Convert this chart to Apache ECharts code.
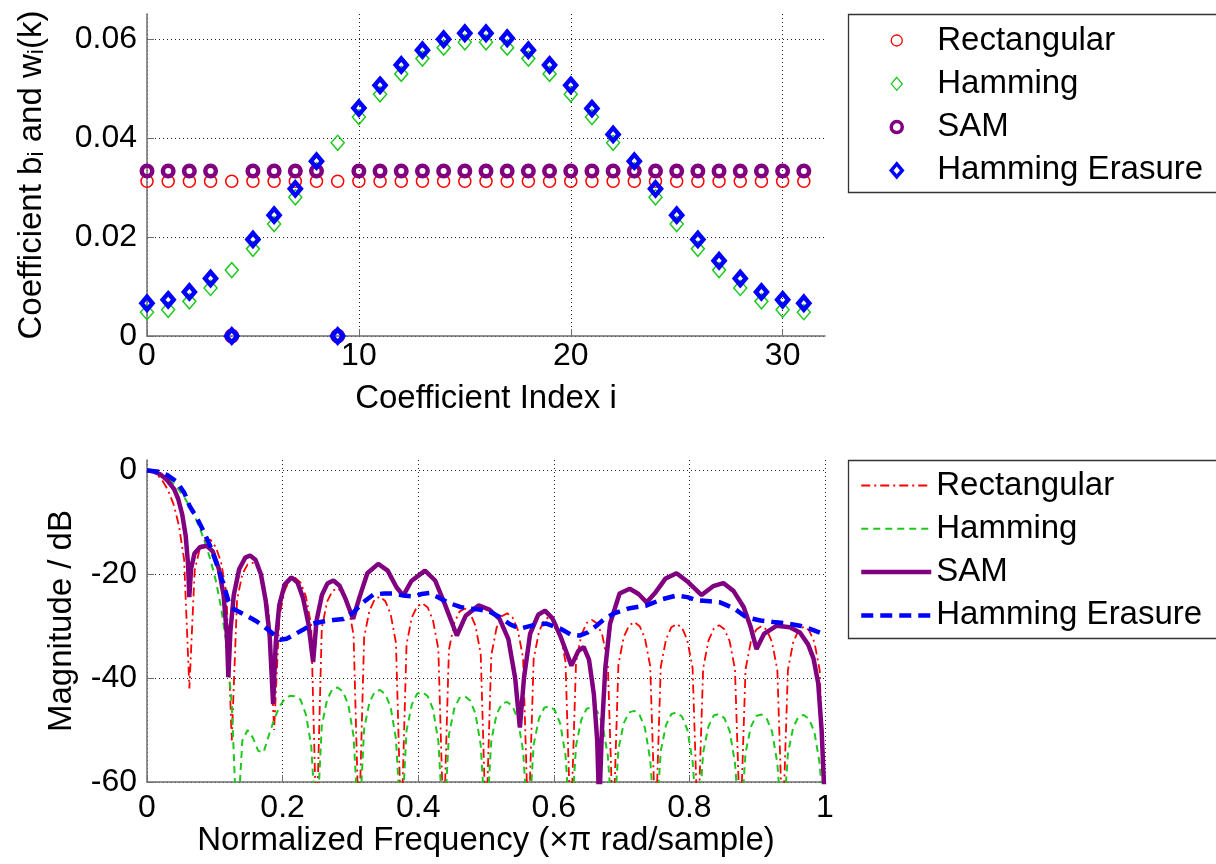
<!DOCTYPE html>
<html>
<head>
<meta charset="utf-8">
<script src="https://cdn.jsdelivr.net/npm/echarts@6.0.0/dist/echarts.min.js"></script>
<style>
html,body{margin:0;padding:0;background:#fff}
#chart{width:1216px;height:864px}
</style>
</head>
<body>
<div id="chart"></div>
<script>
// coefficient plot (top)
var coefIndex = [0,1,2,3,4,5,6,7,8,9,10,11,12,13,14,15,16,17,18,19,20,21,22,23,24,25,26,27,28,29,30,31];
var rectCoef = [0.03125,0.03125,0.03125,0.03125,0.03125,0.03125,0.03125,0.03125,0.03125,0.03125,0.03125,0.03125,0.03125,0.03125,0.03125,0.03125,
  0.03125,0.03125,0.03125,0.03125,0.03125,0.03125,0.03125,0.03125,0.03125,0.03125,0.03125,0.03125,0.03125,0.03125,0.03125,0.03125];
var hammCoef = [0.0048,0.0053,0.0070,0.0097,0.0133,0.0176,0.0226,0.0280,0.0335,0.0390,0.0442,0.0488,0.0529,0.0560,0.0582,0.0593,
  0.0593,0.0582,0.0560,0.0529,0.0488,0.0442,0.0390,0.0335,0.0280,0.0226,0.0176,0.0133,0.0097,0.0070,0.0053,0.0048];
var samCoef = [0.0333,0.0333,0.0333,0.0333,0,0.0333,0.0333,0.0333,0.0333,0,0.0333,0.0333,0.0333,0.0333,0.0333,0.0333,
  0.0333,0.0333,0.0333,0.0333,0.0333,0.0333,0.0333,0.0333,0.0333,0.0333,0.0333,0.0333,0.0333,0.0333,0.0333,0.0333];
var erasCoef = [0.0066,0.0073,0.0089,0.0116,0,0.0195,0.0244,0.0297,0.0353,0,0.0460,0.0506,0.0547,0.0577,0.0599,0.0611,
  0.0611,0.0601,0.0577,0.0547,0.0506,0.0459,0.0407,0.0353,0.0297,0.0244,0.0195,0.0152,0.0116,0.0089,0.0073,0.0066];

// frequency response (bottom)
var freqGrid = [0,0.0078,0.0156,0.0234,0.0313,0.0391,0.0469,0.0547,
  0.0625,0.0703,0.0781,0.0859,0.0938,0.1016,0.1094,0.1172,
  0.125,0.1328,0.1406,0.1484,0.1563,0.1641,0.1719,0.1797,
  0.1875,0.1953,0.2031,0.2109,0.2188,0.2266,0.2344,0.2422,
  0.25,0.2578,0.2656,0.2734,0.2813,0.2891,0.2969,0.3047,
  0.3125,0.3203,0.3281,0.3359,0.3438,0.3516,0.3594,0.3672,
  0.375,0.3828,0.3906,0.3984,0.4063,0.4141,0.4219,0.4297,
  0.4375,0.4453,0.4531,0.4609,0.4688,0.4766,0.4844,0.4922,
  0.5,0.5078,0.5156,0.5234,0.5313,0.5391,0.5469,0.5547,
  0.5625,0.5703,0.5781,0.5859,0.5938,0.6016,0.6094,0.6172,
  0.625,0.6328,0.6406,0.6484,0.6563,0.6641,0.6719,0.6797,
  0.6875,0.6953,0.7031,0.7109,0.7188,0.7266,0.7344,0.7422,
  0.75,0.7578,0.7656,0.7734,0.7813,0.7891,0.7969,0.8047,
  0.8125,0.8203,0.8281,0.8359,0.8438,0.8516,0.8594,0.8672,
  0.875,0.8828,0.8906,0.8984,0.9063,0.9141,0.9219,0.9297,
  0.9375,0.9453,0.9531,0.9609,0.9688,0.9766,0.9844,0.9922,1];
var rectDb = [0,-0.2,-0.9,-2.1,-3.9,-6.5,-10.5,-17.1,
  -42,-19.3,-14.9,-13.4,-13.4,-14.8,-17.8,-23.7,
  -52,-24.9,-20.0,-18.1,-17.8,-18.9,-21.7,-27.4,
  -50,-28.1,-23.1,-21.0,-20.7,-21.6,-24.3,-29.9,
  -70,-30.4,-25.3,-23.2,-22.7,-23.6,-26.2,-31.7,
  -70,-32.1,-27.0,-24.8,-24.3,-25.2,-27.7,-33.2,
  -70,-33.5,-28.3,-26.2,-25.6,-26.4,-28.9,-34.4,
  -70,-34.6,-29.4,-27.2,-26.6,-27.5,-29.9,-35.3,
  -70,-35.6,-30.3,-28.1,-27.5,-28.3,-30.7,-36.1,
  -70,-36.3,-31.1,-28.8,-28.2,-29.0,-31.4,-36.8,
  -70,-36.9,-31.7,-29.4,-28.8,-29.5,-31.9,-37.3,
  -70,-37.4,-32.1,-29.9,-29.2,-30.0,-32.3,-37.7,
  -70,-37.8,-32.5,-30.2,-29.6,-30.3,-32.7,-38.0,
  -70,-38.1,-32.8,-30.5,-29.8,-30.6,-32.9,-38.3,
  -70,-38.3,-33.0,-30.7,-30.0,-30.7,-33.1,-38.4,
  -70,-38.4,-33.1,-30.8,-30.1,-30.8,-33.1,-38.5,-70];
var hammDb = [0,-0.1,-0.4,-0.9,-1.6,-2.6,-3.7,-5.1,
  -6.8,-8.8,-11.2,-14.0,-17.3,-21.3,-26.5,-33.5,
  -45,-70,-52,-50,-51.5,-54,-54.3,-51,
  -48,-45.5,-44,-43.4,-43.5,-44.2,-47,-53,
  -70,-49.2,-44.2,-42.1,-41.8,-42.6,-45.1,-51.2,
  -70,-49.7,-44.7,-42.6,-42.3,-43.1,-45.6,-51.7,
  -70,-50.1,-45.1,-43.0,-42.7,-43.5,-46.0,-52.1,
  -70,-50.9,-45.9,-43.8,-43.5,-44.3,-46.8,-52.9,
  -70,-52.0,-47.0,-44.9,-44.6,-45.4,-47.9,-54.0,
  -70,-52.8,-47.8,-45.7,-45.4,-46.2,-48.7,-54.8,
  -70,-53.0,-48.0,-45.9,-45.6,-46.4,-48.9,-55.0,
  -70,-53.7,-48.7,-46.6,-46.3,-47.1,-49.6,-55.7,
  -70,-54.0,-49.0,-46.9,-46.6,-47.4,-49.9,-56.0,
  -70,-54.3,-49.3,-47.2,-46.9,-47.7,-50.2,-56.3,
  -70,-54.4,-49.4,-47.3,-47.0,-47.8,-50.3,-56.4,
  -70,-54.5,-49.5,-47.4,-47.1,-47.9,-50.4,-56.5,-70];
var samFreq = [0,0.01,0.02,0.03,0.04,0.046,0.052,0.057,0.0605,0.0624,0.065,0.07,0.078,0.088,0.097,0.106,0.113,0.118,0.12,0.123,
  0.128,0.136,0.145,0.152,0.16,0.168,0.175,0.181,0.186,0.19,0.195,0.203,0.213,0.222,0.23,0.238,0.245,0.25,0.258,0.266,
  0.275,0.284,0.293,0.304,0.313,0.325,0.341,0.355,0.368,0.378,0.39,0.41,0.425,0.44,0.457,0.47,0.489,0.505,0.52,0.533,
  0.543,0.55,0.556,0.565,0.577,0.587,0.598,0.61,0.626,0.636,0.644,0.652,0.659,0.664,0.667,0.671,0.676,0.683,0.697,0.712,
  0.725,0.737,0.75,0.765,0.781,0.798,0.818,0.835,0.85,0.865,0.88,0.89,0.899,0.91,0.929,0.948,0.963,0.975,0.983,0.99,0.995,1];
var samDb = [0,-0.2,-0.8,-1.9,-3.6,-5.5,-8.5,-12.5,-18,-24.4,-19,-16,-14.8,-14.5,-15.6,-19,-24,-32,-39.8,-31,
  -24,-19,-16.8,-16.4,-17.2,-20,-25,-32,-45,-33,-26,-22,-20.6,-21.6,-24.5,-29.5,-36.9,-29,-24,-21.8,
  -21.2,-22.2,-24.8,-28.6,-24.6,-19.8,-18,-19.3,-22.5,-24.1,-21.3,-19.3,-21.2,-26,-31.8,-28,-26,-26.8,-28.6,-32.5,
  -40,-49.5,-40,-31.5,-27.8,-27,-28.5,-32,-37.6,-34.8,-34,-36.5,-43,-52,-65,-50,-38,-29.5,-23.7,-22.8,
  -23.8,-25.4,-23.5,-20.8,-19.8,-21.5,-24,-22.3,-21.7,-23.2,-26.3,-30,-34.4,-31.5,-29.9,-30.2,-31.2,-33.5,-36.2,-41,-50,-65];
var erasFreq = [0,0.019,0.03,0.044,0.055,0.063,0.073,0.083,0.093,0.103,0.112,0.12,0.128,0.137,0.15,0.162,0.18,0.196,0.206,0.216,
  0.23,0.245,0.26,0.275,0.29,0.304,0.318,0.334,0.35,0.363,0.378,0.393,0.405,0.417,0.432,0.447,0.462,0.476,0.49,0.505,
  0.521,0.535,0.55,0.57,0.589,0.61,0.625,0.638,0.65,0.662,0.675,0.688,0.71,0.737,0.76,0.781,0.797,0.811,0.83,0.845,
  0.865,0.884,0.905,0.924,0.945,0.963,0.98,1];
var erasDb = [0,-0.3,-0.9,-2.2,-4.3,-6.9,-9,-11.6,-14.5,-18.1,-21.6,-25.1,-26.7,-27.3,-28.2,-29.1,-30.8,-32.6,-32.4,-31.7,
  -30.7,-29.5,-29.1,-28.8,-28.6,-27.4,-25.5,-23.9,-23.7,-23.7,-24.1,-24.3,-23.8,-23.6,-24.6,-25.6,-26.3,-26.6,-26.8,-27.2,
  -28.3,-29.6,-30.5,-29.8,-29.5,-30.5,-31.6,-31.8,-31.2,-30,-28.6,-27.6,-26.6,-26,-24.8,-24.1,-24.4,-25,-25.2,-25.4,
  -26.5,-28.3,-28.9,-29.2,-29.5,-29.9,-30.6,-31.6];

var seriesNames = ['Rectangular', 'Hamming', 'SAM', 'Hamming Erasure'];
var FONT = 'Liberation Sans, Arial, Helvetica, sans-serif';
var RED = '#ff0000', GREEN = '#1ec81e', PURPLE = '#800080', BLUE = '#0000ff';

function zip(xs, ys) {
  return xs.map(function (x, i) { return [x, ys[i]]; });
}

var chart = echarts.init(document.getElementById('chart'), null, {renderer: 'canvas'});

function axis(extra) {
  var base = {
    type: 'value',
    nameLocation: 'middle',
    nameTextStyle: {color: '#000', fontSize: 33, fontFamily: FONT},
    axisLine: {show: true, onZero: false, lineStyle: {color: '#6e6e6e', width: 1.5}},
    axisTick: {show: true, inside: true, length: 7, lineStyle: {color: '#6e6e6e', width: 1}},
    axisLabel: {color: '#000', fontSize: 32, fontFamily: FONT, showMaxLabel: false},
    splitLine: {show: true, showMaxLine: false, lineStyle: {type: [1, 3], color: '#222', width: 1}}
  };
  return echarts.util.merge(base, extra, true);
}

// marker styles for the coefficient plot
var coefStyle = {
  'Rectangular': {symbol: 'circle', size: 12, item: {color: 'rgba(0,0,0,0)', borderColor: RED, borderWidth: 1.5, opacity: 1}},
  'Hamming': {symbol: 'diamond', size: [13, 15], item: {color: 'rgba(0,0,0,0)', borderColor: GREEN, borderWidth: 1.5, opacity: 1}},
  'SAM': {symbol: 'circle', size: 10.5, item: {color: 'rgba(0,0,0,0)', borderColor: PURPLE, borderWidth: 4.5, opacity: 1}},
  'Hamming Erasure': {symbol: 'diamond', size: [11, 13], item: {color: 'rgba(0,0,0,0)', borderColor: BLUE, borderWidth: 4.5, opacity: 1}}
};
var respStyle = {
  'Rectangular': {color: RED, width: 1.8, type: [9, 4, 2, 4]},
  'Hamming': {color: GREEN, width: 2, type: [7, 5]},
  'SAM': {color: PURPLE, width: 4.5, type: 'solid'},
  'Hamming Erasure': {color: BLUE, width: 4.5, type: [12, 7]}
};
var coefData = {'Rectangular': rectCoef, 'Hamming': hammCoef, 'SAM': samCoef, 'Hamming Erasure': erasCoef};
var respData = {
  'Rectangular': zip(freqGrid, rectDb),
  'Hamming': zip(freqGrid, hammDb),
  'SAM': zip(samFreq, samDb),
  'Hamming Erasure': zip(erasFreq, erasDb)
};

var series = [];
seriesNames.forEach(function (n) {
  var s = coefStyle[n];
  series.push({
    name: 'coef:' + n, type: 'scatter', xAxisIndex: 0, yAxisIndex: 0, clip: false,
    data: zip(coefIndex, coefData[n]), symbol: s.symbol, symbolSize: s.size, itemStyle: s.item
  });
});
seriesNames.forEach(function (n) {
  var s = respStyle[n];
  series.push({
    name: 'resp:' + n, type: 'line', xAxisIndex: 1, yAxisIndex: 1, symbol: 'none',
    data: respData[n], itemStyle: {color: s.color},
    lineStyle: {color: s.color, width: s.width, type: s.type}
  });
});

var legendText = {color: '#000', fontSize: 33, fontFamily: FONT, lineHeight: 34};

var option = {
  animation: false,
  backgroundColor: '#fff',
  grid: [
    {left: 147, top: 14, width: 678, height: 322},
    {left: 147, top: 460, width: 678, height: 322}
  ],
  xAxis: [
    axis({gridIndex: 0, min: 0, max: 32, interval: 10, name: 'Coefficient Index i', nameGap: 46,
      axisLabel: {margin: 4}}),
    axis({gridIndex: 1, min: 0, max: 1, interval: 0.2, name: 'Normalized Frequency (\u00d7\u03c0 rad/sample)', nameGap: 42,
      axisLabel: {margin: 10, showMaxLabel: true}, splitLine: {showMaxLine: true}})
  ],
  yAxis: [
    axis({gridIndex: 0, min: 0, max: 0.065, interval: 0.02, name: 'Coefficient b\u1d62 and w\u1d62(k)', nameGap: 99,
      axisLabel: {margin: 10}}),
    axis({gridIndex: 1, min: -60, max: 2, interval: 20, name: 'Magnitude / dB', nameGap: 69,
      axisLabel: {margin: 10}})
  ],
  legend: [
    {
      data: seriesNames.map(function (n) {
        var s = coefStyle[n];
        return {name: 'coef:' + n, icon: s.symbol,
          itemStyle: {color: 'rgba(0,0,0,0)', borderColor: s.item.borderColor, borderWidth: s.item.borderWidth > 2 ? 3.5 : 1.3, opacity: 1}};
      }),
      formatter: function (n) { return n.slice(5); },
      orient: 'vertical', left: 889.5, top: 23.5, padding: 0,
      itemWidth: 11, itemHeight: 13, itemGap: 9.3,
      selectedMode: false,
      textStyle: echarts.util.extend({padding: [0, 0, 0, 30]}, legendText)
    },
    {
      data: seriesNames.map(function (n) {
        var s = respStyle[n];
        return {name: 'resp:' + n,
          itemStyle: {color: 'rgba(0,0,0,0)', borderColor: 'rgba(0,0,0,0)', borderWidth: 0, opacity: 0},
          lineStyle: {color: s.color, width: s.width, type: s.type}};
      }),
      formatter: function (n) { return n.slice(5); },
      orient: 'vertical', left: 859, top: 468.5, padding: 0,
      itemWidth: 70, itemHeight: 13, itemGap: 9.3,
      selectedMode: false,
      textStyle: legendText
    }
  ],
  graphic: [
    {type: 'rect', shape: {x: 848.5, y: 14.5, width: 380, height: 178}, style: {fill: 'none', stroke: '#333', lineWidth: 1.3}, silent: true},
    {type: 'rect', shape: {x: 848.5, y: 460.5, width: 380, height: 178}, style: {fill: 'none', stroke: '#333', lineWidth: 1.3}, silent: true}
  ],
  series: series
};
chart.setOption(option);
</script>
</body>
</html>
